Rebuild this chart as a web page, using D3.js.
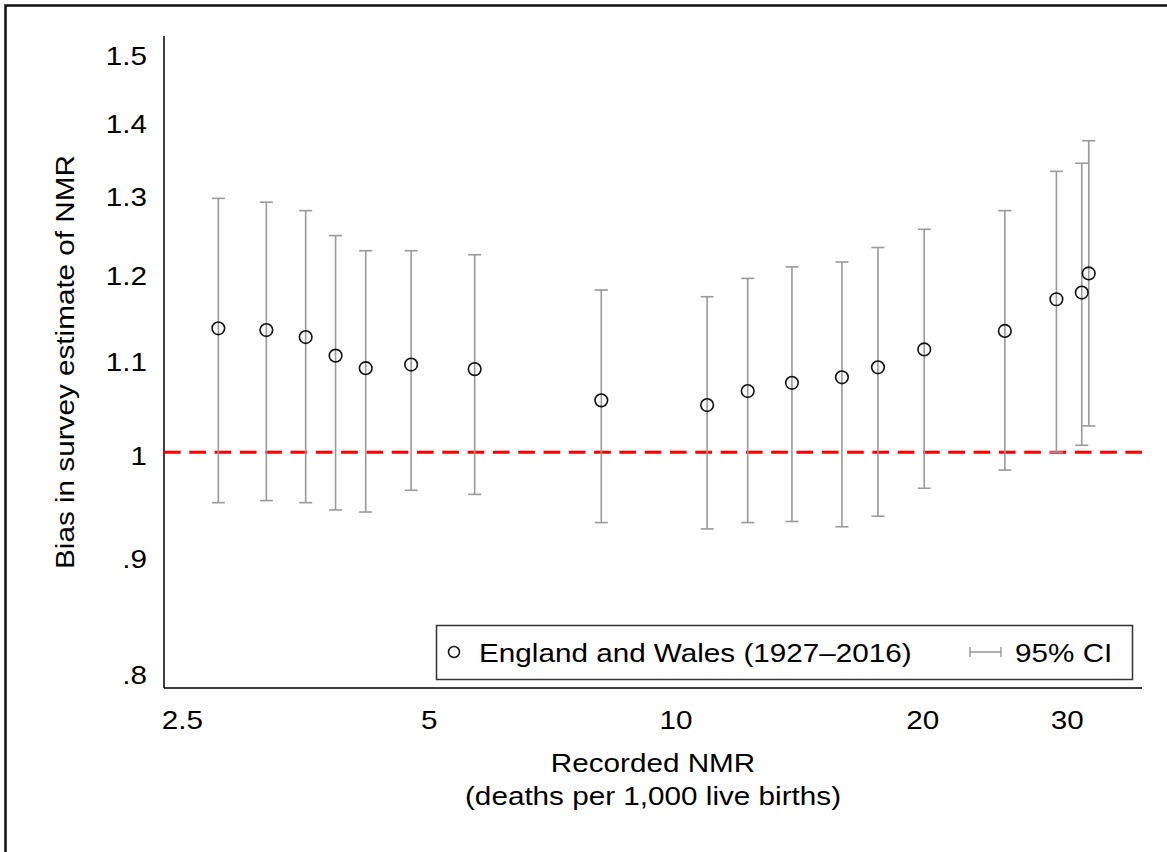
<!DOCTYPE html>
<html>
<head>
<meta charset="utf-8">
<script src="https://cdn.jsdelivr.net/npm/d3@7"></script>
<style>
  body { margin: 0; background: #fff; }
  text { font-family: "Liberation Sans", Arial, Helvetica, sans-serif; fill: #000; }
</style>
</head>
<body>
<script>
//recorded NMR (x) and bias with 95% CI (y)
var nmr    = [2.77, 3.17, 3.54, 3.85, 4.19, 4.76, 5.69, 8.12, 10.93, 12.25, 13.87, 15.96, 17.66, 20.11, 25.22, 29.15, 31.30, 31.92];
var bias   = [1.134, 1.132, 1.124, 1.103, 1.089, 1.093, 1.088, 1.054, 1.049, 1.064, 1.073, 1.079, 1.090, 1.110, 1.131, 1.168, 1.176, 1.199];
var ciLow  = [0.950, 0.952, 0.950, 0.943, 0.941, 0.962, 0.958, 0.931, 0.925, 0.931, 0.932, 0.927, 0.937, 0.964, 0.982, 1.000, 1.007, 1.027];
var ciHigh = [1.294, 1.289, 1.278, 1.246, 1.227, 1.227, 1.222, 1.179, 1.171, 1.193, 1.207, 1.213, 1.231, 1.254, 1.278, 1.330, 1.341, 1.372];

var xTicks = [2.5, 5, 10, 20, 30];
var yTicks = [0.8, 0.9, 1, 1.1, 1.2, 1.3, 1.4, 1.5];
var yTickLabels = [".8", ".9", "1", "1.1", "1.2", "1.3", "1.4", "1.5"];

var seriesLabel = "England and Wales (1927\u20132016)",
    ciLabel = "95% CI";

var width = 1167,
    height = 852;

var plot = {left: 164, right: 1142, top: 36, bottom: 688};

var svg = d3.select("body")
    .append("svg")
    .attr("width", width)
    .attr("height", height);

//outer frame (only top and left edges fall inside the picture)
svg.append("path")
    .attr("d", "M5.5," + height + "V5.5H" + width)
    .attr("fill", "none")
    .attr("stroke", "#111")
    .attr("stroke-width", 2.5);

var x = d3.scaleLog()
    .domain([2.378, 37.07])
    .range([plot.left, plot.right]);

var y = d3.scaleLog()
    .domain([0.787, 1.526])
    .range([plot.bottom, plot.top]);

var fs = 26.5, stretch = 1.12;

//text helper: slightly wide glyphs like the original
function label(g, tx, ty, str, anchor, rot){
    return g.append("text")
        .attr("transform", "translate(" + tx + "," + ty + ")" + (rot ? " rotate(" + rot + ")" : "") + " scale(" + stretch + ",1)")
        .attr("text-anchor", anchor)
        .style("font-size", fs + "px")
        .text(str);
}

//y axis
var yAxis = d3.axisLeft(y)
    .tickValues(yTicks)
    .tickSize(0)
    .tickPadding(0)
    .tickFormat(function(d, i){ return yTickLabels[i]; });

var yg = svg.append("g")
    .attr("transform", "translate(" + plot.left + ",0)")
    .call(yAxis);
yg.select(".domain").remove();
yg.selectAll(".tick text").remove();
yg.selectAll(".tick").each(function(d, i){
    label(d3.select(this), -17, 12, yTickLabels[i], "end");
});

//x axis
var xAxis = d3.axisBottom(x)
    .tickValues(xTicks)
    .tickSize(0)
    .tickFormat(d3.format("~g"));

var xg = svg.append("g")
    .attr("transform", "translate(0," + plot.bottom + ")")
    .call(xAxis);
xg.select(".domain").remove();
xg.selectAll(".tick text").remove();
xg.selectAll(".tick").each(function(d){
    label(d3.select(this), 0, 41, d3.format("~g")(d), "middle");
});

//axis lines
svg.append("line")
    .attr("x1", plot.left).attr("x2", plot.left)
    .attr("y1", plot.top).attr("y2", plot.bottom)
    .attr("stroke", "#000").attr("stroke-width", 1.5);
svg.append("line")
    .attr("x1", plot.left).attr("x2", plot.right)
    .attr("y1", plot.bottom).attr("y2", plot.bottom)
    .attr("stroke", "#000").attr("stroke-width", 1.5);

//axis titles
label(svg, (plot.left + plot.right) / 2, 772, "Recorded NMR", "middle");
label(svg, (plot.left + plot.right) / 2, 805, "(deaths per 1,000 live births)", "middle");
label(svg, 74, (plot.top + plot.bottom) / 2, "Bias in survey estimate of NMR", "middle", -90);

//reference line at no bias
svg.append("line")
    .attr("x1", plot.left).attr("x2", plot.right)
    .attr("y1", y(1)).attr("y2", y(1))
    .attr("stroke", "#ff0000")
    .attr("stroke-width", 3)
    .attr("stroke-dasharray", "16.7,8.6");

var idx = d3.range(nmr.length);
var capW = 6.5, ciColor = "#999";

//confidence intervals
var ci = svg.selectAll(".ci")
    .data(idx)
    .enter()
    .append("g")
    .attr("class", "ci")
    .attr("stroke", ciColor)
    .attr("stroke-width", 1.6);

ci.append("line")
    .attr("x1", function(i){ return x(nmr[i]); })
    .attr("x2", function(i){ return x(nmr[i]); })
    .attr("y1", function(i){ return y(ciLow[i]); })
    .attr("y2", function(i){ return y(ciHigh[i]); });
ci.append("line")
    .attr("x1", function(i){ return x(nmr[i]) - capW; })
    .attr("x2", function(i){ return x(nmr[i]) + capW; })
    .attr("y1", function(i){ return y(ciHigh[i]); })
    .attr("y2", function(i){ return y(ciHigh[i]); });
ci.append("line")
    .attr("x1", function(i){ return x(nmr[i]) - capW; })
    .attr("x2", function(i){ return x(nmr[i]) + capW; })
    .attr("y1", function(i){ return y(ciLow[i]); })
    .attr("y2", function(i){ return y(ciLow[i]); });

//point estimates
svg.selectAll(".pt")
    .data(idx)
    .enter()
    .append("circle")
    .attr("class", "pt")
    .attr("cx", function(i){ return x(nmr[i]); })
    .attr("cy", function(i){ return y(bias[i]); })
    .attr("r", 6.3)
    .attr("fill", "none")
    .attr("stroke", "#111")
    .attr("stroke-width", 1.6);

//legend
var leg = svg.append("g");
leg.append("rect")
    .attr("x", 436.5).attr("y", 625.5)
    .attr("width", 696).attr("height", 54)
    .attr("fill", "#fff")
    .attr("stroke", "#333")
    .attr("stroke-width", 1.5);
leg.append("circle")
    .attr("cx", 454).attr("cy", 652).attr("r", 5.5)
    .attr("fill", "none").attr("stroke", "#111").attr("stroke-width", 1.5);
label(leg, 479, 662, seriesLabel, "start");
leg.append("path")
    .attr("d", "M970,647V657M970,652H1001M1001,647V657")
    .attr("fill", "none")
    .attr("stroke", ciColor)
    .attr("stroke-width", 1.4);
label(leg, 1015, 662, ciLabel, "start");
</script>
</body>
</html>
